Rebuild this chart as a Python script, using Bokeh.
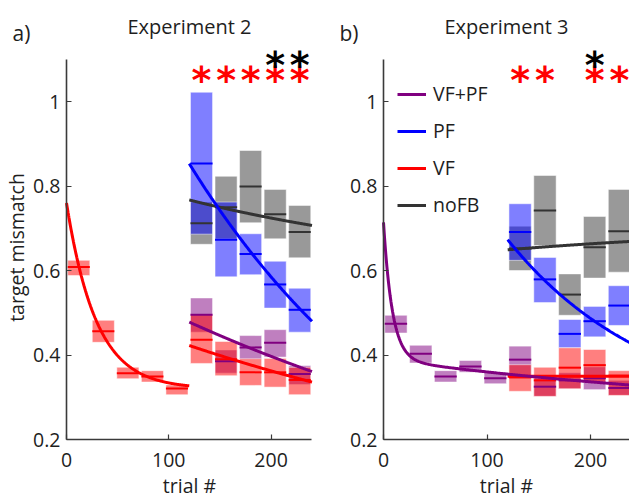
import numpy as np
from bokeh.plotting import figure
from bokeh.models import FixedTicker, Label, Legend, LegendItem, Range1d
from bokeh.layouts import row
from bokeh.core.properties import value
from bokeh.embed import file_html
from bokeh.resources import INLINE

# ---------------- data ----------------
early_trials = [12, 36, 60, 84, 108]
late_trials = [132, 156, 180, 204, 228]

# Experiment 2 (panel a)
a_vf_early_mean = [0.608, 0.456, 0.357, 0.349, 0.321]
a_vf_early_lo = [0.588, 0.430, 0.344, 0.336, 0.306]
a_vf_early_hi = [0.624, 0.482, 0.371, 0.363, 0.329]

a_pf_mean = [0.853, 0.673, 0.639, 0.567, 0.507]
a_pf_lo = [0.686, 0.585, 0.590, 0.511, 0.454]
a_pf_hi = [1.022, 0.762, 0.687, 0.622, 0.558]

a_nofb_mean = [0.712, 0.750, 0.799, 0.733, 0.691]
a_nofb_lo = [0.662, 0.675, 0.713, 0.675, 0.630]
a_nofb_hi = [0.762, 0.823, 0.884, 0.792, 0.754]

a_vfpf_mean = [0.495, 0.385, 0.418, 0.429, 0.355]
a_vfpf_lo = [0.454, 0.357, 0.390, 0.395, 0.330]
a_vfpf_hi = [0.535, 0.412, 0.446, 0.460, 0.375]

a_vf_mean = [0.436, 0.390, 0.359, 0.359, 0.341]
a_vf_lo = [0.380, 0.351, 0.328, 0.324, 0.306]
a_vf_hi = [0.496, 0.432, 0.391, 0.392, 0.371]

# Experiment 3 (panel b)
b_vfpf_early_mean = [0.474, 0.403, 0.349, 0.373, 0.345]
b_vfpf_early_lo = [0.452, 0.381, 0.336, 0.359, 0.332]
b_vfpf_early_hi = [0.494, 0.423, 0.363, 0.387, 0.359]

b_pf_mean = [0.691, 0.579, 0.450, 0.480, 0.517]
b_pf_lo = [0.624, 0.524, 0.417, 0.443, 0.470]
b_pf_hi = [0.758, 0.631, 0.484, 0.515, 0.564]

b_nofb_mean = [0.652, 0.742, 0.543, 0.655, 0.693]
b_nofb_lo = [0.600, 0.659, 0.494, 0.582, 0.596]
b_nofb_hi = [0.705, 0.825, 0.592, 0.728, 0.792]

b_vfpf_mean = [0.389, 0.325, 0.340, 0.345, 0.322]
b_vfpf_lo = [0.345, 0.302, 0.320, 0.318, 0.305]
b_vfpf_hi = [0.421, 0.345, 0.358, 0.372, 0.340]

b_vf_mean = [0.347, 0.340, 0.370, 0.376, 0.351]
b_vf_lo = [0.314, 0.302, 0.320, 0.335, 0.304]
b_vf_hi = [0.377, 0.371, 0.417, 0.413, 0.363]

# fitted curves: (t_start, t_end, asymptote, amp1, tau1, amp2, tau2)
a_fit_vf_early = (0, 120, 0.320, 0.440, 29.0, 0.0, 1.0)
a_fit_pf = (120, 240, -0.126, 0.979, 250.0, 0.0, 1.0)
a_fit_nofb = (120, 240, 0.584, 0.183, 300.0, 0.0, 1.0)
a_fit_vfpf = (120, 240, -0.071, 0.549, 500.0, 0.0, 1.0)
a_fit_vf = (120, 240, 0.0165, 0.406, 500.0, 0.0, 1.0)

b_fit_vfpf = (0, 240, 0.254, 0.324, 8.5, 0.136, 400.0)
b_fit_pf = (120, 240, 0.245, 0.428, 140.0, 0.0, 1.0)
b_fit_vf = (120, 240, 0.350, 0.0, 100.0, 0.0, 1.0)
b_fit_nofb = (120, 240, 0.7096, -0.0606, 300.0, 0.0, 1.0)

# significance markers (trial bins)
a_sig_red = [132, 156, 180, 204, 228]
a_sig_black = [204, 228]
b_sig_red = [132, 156, 204, 228]
b_sig_black = [204]

y_ticks = [0.2, 0.4, 0.6, 0.8, 1.0]
y_tick_labels = ["0.2", "0.4", "0.6", "0.8", "1"]
x_ticks = [0, 100, 200]
x_tick_labels = ["0", "100", "200"]

legend_labels = ["VF+PF", "PF", "VF", "noFB"]

# ---------------- style ----------------
PURPLE = "#800080"
BLUE = "#0000ff"
RED = "#ff0000"
GRAY = "#333333"
FONT = "Open Sans"
TXT = "#1e1e1e"
BOX_W = 21.6
FS = "19.5px"
H = 498


def curve(fit):
    t0, t1, a, b1, tau1, b2, tau2 = fit
    t = np.linspace(t0, t1, 300)
    u = t - t0
    return t, a + b1 * np.exp(-u / tau1) + b2 * np.exp(-u / tau2)


def boxes(p, xs, lo, hi, color):
    p.vbar(x=xs, width=BOX_W, bottom=lo, top=hi, fill_color=color,
           fill_alpha=0.5, line_color="white", line_alpha=0.5, line_width=1)


def means(p, xs, m, color):
    xs = np.asarray(xs, dtype=float)
    p.segment(x0=xs - BOX_W / 2, x1=xs + BOX_W / 2, y0=m, y1=m,
              line_color=color, line_width=2)


def fitline(p, fit, color):
    t, y = curve(fit)
    return p.line(t, y, line_color=color, line_width=3)


def stars(p, xs, color, ybase):
    p.text(x=xs, y=[ybase] * len(xs), text=["*"] * len(xs),
           text_font=value("DejaVu Sans"), text_font_style="bold",
           text_font_size="38px", text_color=color,
           text_align="center", text_baseline="alphabetic")


def make_fig(width, x0_px, px_per_trial):
    # frame covers the whole canvas; axes are pinned at trial 0 / value 0.2
    xs = -x0_px / px_per_trial
    xe = (width - x0_px) / px_per_trial
    py = 422.5
    ys = 0.2 - (H - 439) / py
    ye = 0.2 + 439 / py
    p = figure(width=width, height=H, x_range=Range1d(xs, xe),
               y_range=Range1d(ys, ye), output_backend="svg",
               toolbar_location=None, min_border=0)
    p.xgrid.visible = False
    p.ygrid.visible = False
    p.outline_line_color = None
    p.background_fill_color = "white"
    for ax in (p.xaxis[0], p.yaxis[0]):
        ax.axis_line_color = "#3a3a3a"
        ax.axis_line_width = 1.6
        ax.major_tick_line_color = "#3a3a3a"
        ax.major_tick_line_width = 1.2
        ax.major_tick_in = 5
        ax.major_tick_out = 0
        ax.minor_tick_line_color = None
        ax.major_label_text_font = FONT
        ax.major_label_text_font_size = FS
        ax.major_label_text_color = TXT
    p.yaxis[0].ticker = FixedTicker(ticks=y_ticks)
    p.yaxis[0].major_label_overrides = dict(zip(y_ticks, y_tick_labels))
    p.yaxis[0].bounds = (0.2, 1.1)
    p.yaxis[0].fixed_location = 0
    p.yaxis[0].major_label_standoff = 6
    p.xaxis[0].ticker = FixedTicker(ticks=x_ticks)
    p.xaxis[0].major_label_overrides = dict(zip(x_ticks, x_tick_labels))
    p.xaxis[0].bounds = (0, 240)
    p.xaxis[0].fixed_location = 0.2
    p.xaxis[0].major_label_standoff = 13
    return p


def label(p, text, x, y, size=FS, align="center", angle=0.0):
    # x, y: pixels from the canvas bottom-left
    p.add_layout(Label(x=x, y=y, x_units="screen", y_units="screen",
                       text=text, text_font=FONT, text_font_size=size,
                       text_color=TXT, text_align=align,
                       text_baseline="alphabetic", angle=angle))


# ---------------- panel a ----------------
pa = make_fig(325, 66, 1.0229)
boxes(pa, early_trials, a_vf_early_lo, a_vf_early_hi, RED)
boxes(pa, late_trials, a_nofb_lo, a_nofb_hi, GRAY)
boxes(pa, late_trials, a_pf_lo, a_pf_hi, BLUE)
boxes(pa, late_trials, a_vfpf_lo, a_vfpf_hi, PURPLE)
boxes(pa, late_trials, a_vf_lo, a_vf_hi, RED)
means(pa, early_trials, a_vf_early_mean, RED)
means(pa, late_trials, a_nofb_mean, GRAY)
means(pa, late_trials, a_pf_mean, BLUE)
means(pa, late_trials, a_vfpf_mean, PURPLE)
means(pa, late_trials, a_vf_mean, RED)
fitline(pa, a_fit_vf_early, RED)
fitline(pa, a_fit_nofb, GRAY)
fitline(pa, a_fit_pf, BLUE)
fitline(pa, a_fit_vfpf, PURPLE)
fitline(pa, a_fit_vf, RED)
stars(pa, a_sig_red, RED, 1.050)
stars(pa, a_sig_black, "black", 1.087)
label(pa, "a)", 12, H - 32, size="21px", align="left")
label(pa, "Experiment 2", 189, H - 26, size="20px")
label(pa, "trial #", 189, 13)
label(pa, "target mismatch", 16, H - 247, angle=np.pi / 2)

# ---------------- panel b ----------------
pb = make_fig(304, 58, 1.035)
boxes(pb, early_trials, b_vfpf_early_lo, b_vfpf_early_hi, PURPLE)
boxes(pb, late_trials, b_nofb_lo, b_nofb_hi, GRAY)
boxes(pb, late_trials, b_pf_lo, b_pf_hi, BLUE)
boxes(pb, late_trials, b_vfpf_lo, b_vfpf_hi, PURPLE)
boxes(pb, late_trials, b_vf_lo, b_vf_hi, RED)
means(pb, early_trials, b_vfpf_early_mean, PURPLE)
means(pb, late_trials, b_nofb_mean, GRAY)
means(pb, late_trials, b_pf_mean, BLUE)
means(pb, late_trials, b_vfpf_mean, PURPLE)
means(pb, late_trials, b_vf_mean, RED)
r_nofb = fitline(pb, b_fit_nofb, GRAY)
r_pf = fitline(pb, b_fit_pf, BLUE)
r_vf = fitline(pb, b_fit_vf, RED)
r_vfpf = fitline(pb, b_fit_vfpf, PURPLE)
stars(pb, b_sig_red, RED, 1.050)
stars(pb, b_sig_black, "black", 1.087)
label(pb, "b)", 14, H - 32, size="21px", align="left")
label(pb, "Experiment 3", 181, H - 26, size="20px")
label(pb, "trial #", 181, 13)

legend_renderers = [r_vfpf, r_pf, r_vf, r_nofb]
items = [LegendItem(label=name, renderers=[r])
         for name, r in zip(legend_labels, legend_renderers)]
leg = Legend(items=items, location=(72, 280), orientation="vertical",
             glyph_width=29, glyph_height=24, label_height=24,
             label_standoff=7, spacing=10, padding=0, margin=0,
             label_text_font=FONT, label_text_font_size=FS,
             label_text_color=TXT, background_fill_alpha=0,
             border_line_color=None)
pb.add_layout(leg)

layout = row(pa, pb)
open("out.html", "w").write(file_html(layout, INLINE))
